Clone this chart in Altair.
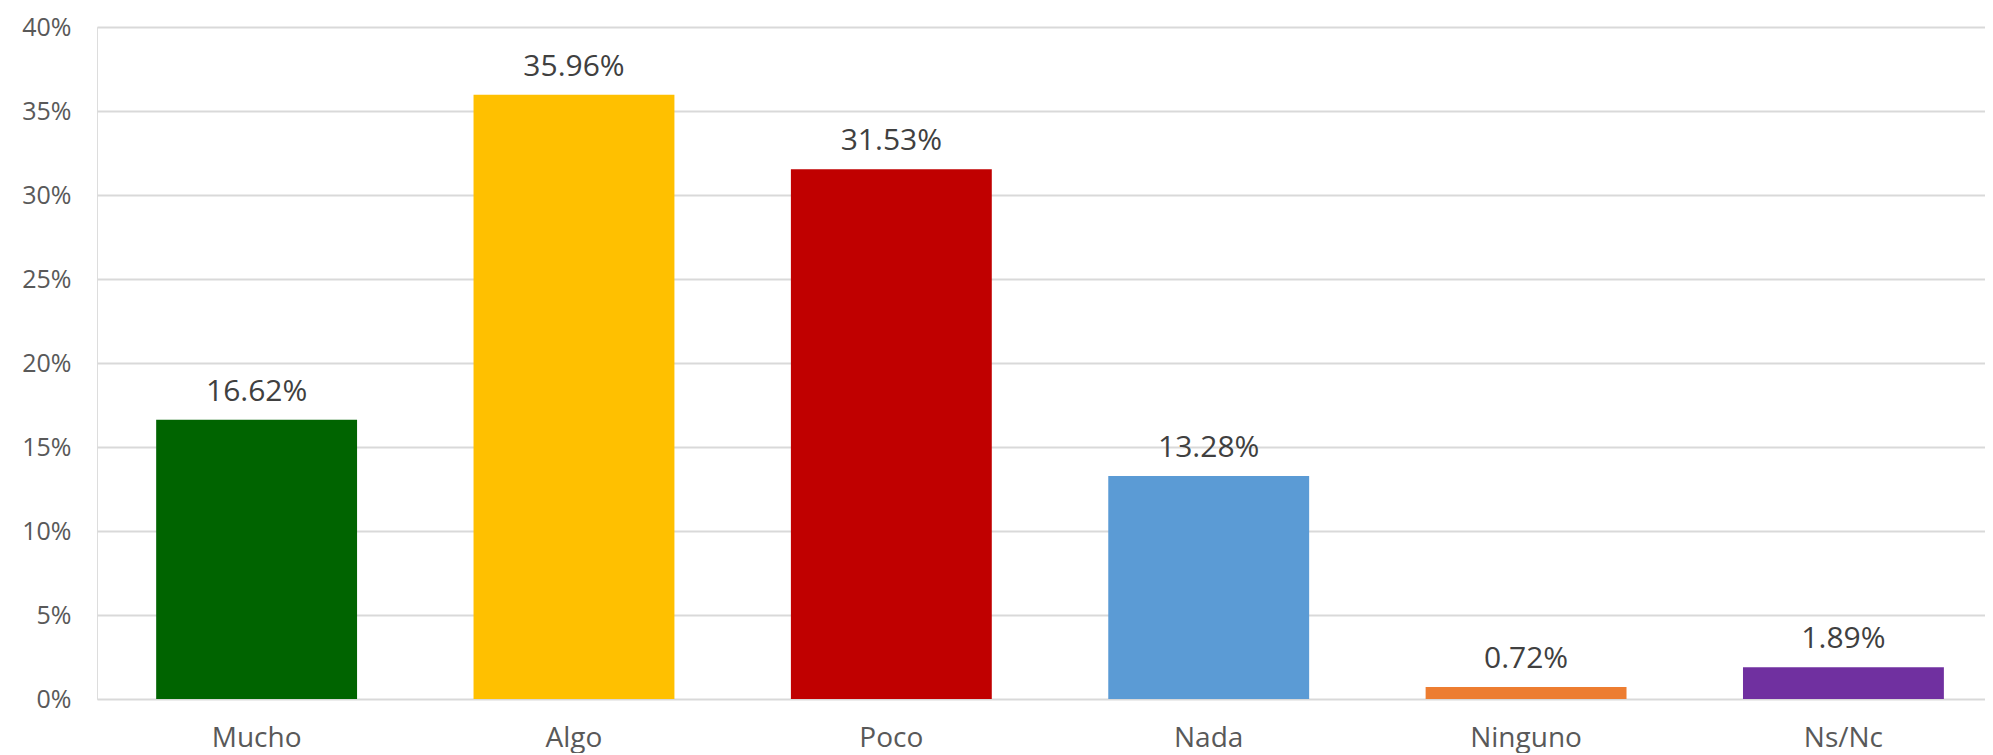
import altair as alt
import pandas as pd

categories = ["Mucho", "Algo", "Poco", "Nada", "Ninguno", "Ns/Nc"]
values_pct = [16.62, 35.96, 31.53, 13.28, 0.72, 1.89]
colors = ["#006400", "#FFC000", "#C00000", "#5B9BD5", "#ED7D31", "#7030A0"]
y_ticks = [0, 0.05, 0.10, 0.15, 0.20, 0.25, 0.30, 0.35, 0.40]

df = pd.DataFrame({
    "cat": categories,
    "val": [v / 100 for v in values_pct],
    "color": colors,
})

x_enc = alt.X(
    "cat:N", sort=categories, title=None,
    scale=alt.Scale(paddingInner=0.367, paddingOuter=0.158, align=0.59),
    axis=alt.Axis(labelAngle=0, labelFont="Open Sans", labelFontSize=28,
                  labelColor="#595959", labelPadding=25, ticks=False,
                  domain=False, grid=False),
)
y_enc = alt.Y(
    "val:Q", title=None,
    scale=alt.Scale(domain=[0, 0.40], nice=False),
    axis=alt.Axis(values=y_ticks, format=".0%", labelFont="Open Sans",
                  labelFontSize=25, labelColor="#595959", labelPadding=26,
                  labelFlush=False, ticks=False, domain=False,
                  gridColor="#d9d9d9", gridWidth=2),
)

bars = alt.Chart(df).mark_bar().encode(
    x=x_enc, y=y_enc,
    color=alt.Color("color:N", scale=None),
)

labels = alt.Chart(df).mark_text(
    font="Open Sans", fontSize=30, color="#404040", dy=-19,
    baseline="alphabetic", align="center",
).encode(
    x=alt.X("cat:N", sort=categories),
    y=alt.Y("val:Q"),
    text=alt.Text("val:Q", format=".2%"),
)

chart = (bars + labels).properties(
    width=1888, height=672,
    autosize=alt.AutoSizeParams(type="none"),
    padding={"left": 89, "top": 19, "right": 0, "bottom": 54},
).configure_view(stroke=None).configure(background="white")

chart.save("out.html", embed_options={"renderer": "svg", "actions": False})
